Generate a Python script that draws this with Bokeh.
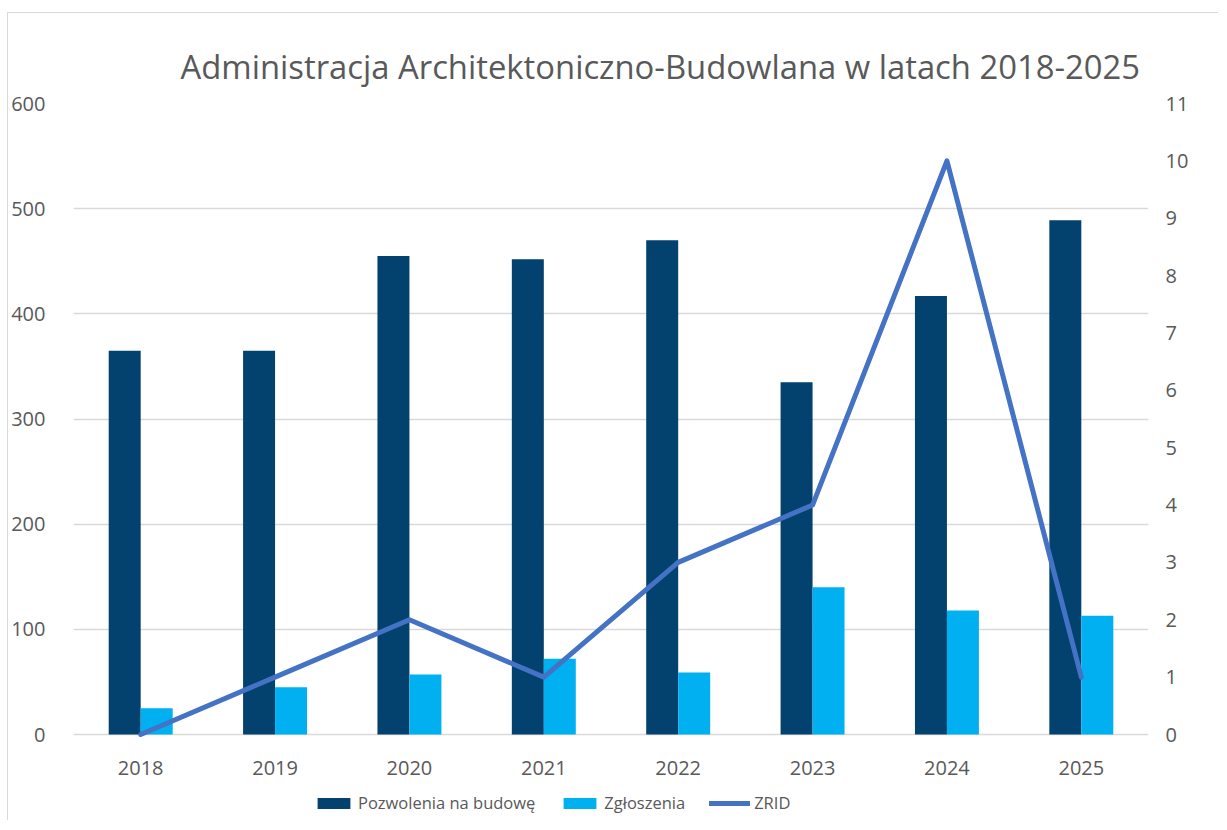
from bokeh.plotting import figure
from bokeh.models import (FactorRange, Range1d, LinearAxis, FixedTicker, Legend, LegendItem,
                          ColumnDataSource, Title)
from bokeh.core.properties import value
from bokeh.transform import dodge
from bokeh.embed import file_html
from bokeh.resources import INLINE

years = ["2018", "2019", "2020", "2021", "2022", "2023", "2024", "2025"]
pozwolenia = [365, 365, 455, 452, 470, 335, 417, 489]
zgloszenia = [25, 45, 57, 72, 59, 140, 118, 113]
zrid = [0, 1, 2, 1, 3, 4, 10, 1]
left_ticks = [0, 100, 200, 300, 400, 500, 600]
right_ticks = list(range(0, 12))

TXT = "#595959"
FONT = "Open Sans"

# frame: 631 px for the 0..600 span, plus room below for category labels and legend
PLOT_H = 631
EXTRA_H = 86
LEFT_MAX, RIGHT_MAX = 600, 11
left_start = -EXTRA_H * LEFT_MAX / PLOT_H
right_start = -EXTRA_H * RIGHT_MAX / PLOT_H

src = ColumnDataSource(dict(years=years, poz=pozwolenia, zgl=zgloszenia, zrid=zrid,
                            base=[0] * len(years)))

p = figure(x_range=FactorRange(*years, range_padding=0), y_range=Range1d(left_start, LEFT_MAX),
           frame_width=1075, frame_height=PLOT_H + EXTRA_H, output_backend="svg",
           toolbar_location=None,
           min_border_left=65, min_border_right=70, min_border_top=90, min_border_bottom=0)
p.styles = {"border-left": "1px solid #d9d9d9", "border-top": "1px solid #d9d9d9",
            "margin-top": "12px", "margin-left": "7px"}
p.outline_line_color = None
p.background_fill_color = "white"

p.title = Title(text="Administracja Architektoniczno-Budowlana w latach 2018-2025",
                text_font=FONT, text_font_size="32.8px", text_font_style="normal",
                text_color=TXT, align="left", offset=107, standoff=29)

p.extra_y_ranges = {"r": Range1d(right_start, RIGHT_MAX)}

b1 = p.vbar(x=dodge("years", -0.119, range=p.x_range), top="poz", width=0.238, source=src,
            fill_color="#03416F", line_color=None)
b2 = p.vbar(x=dodge("years", 0.119, range=p.x_range), top="zgl", width=0.238, source=src,
            fill_color="#00B0F0", line_color=None)
l1 = p.line(x="years", y="zrid", source=src, y_range_name="r", line_color="#4472C4",
            line_width=5, line_join="round", line_cap="round")

# category labels under the baseline
p.text(x="years", y="base", text="years", source=src, y_offset=33,
       text_align="center", text_baseline="middle", text_font=value(FONT),
       text_font_size="20px", text_color=TXT)

p.yaxis.ticker = FixedTicker(ticks=left_ticks)
ax = p.yaxis[0]
ax.axis_line_color = None
ax.major_tick_line_color = None
ax.minor_tick_line_color = None
ax.major_label_text_font = FONT
ax.major_label_text_font_size = "20px"
ax.major_label_text_color = TXT
ax.major_label_standoff = 22

ra = LinearAxis(y_range_name="r", ticker=FixedTicker(ticks=right_ticks))
ra.axis_line_color = None
ra.major_tick_line_color = None
ra.minor_tick_line_color = None
ra.major_label_text_font = FONT
ra.major_label_text_font_size = "20px"
ra.major_label_text_color = TXT
ra.major_label_standoff = 11
p.add_layout(ra, "right")

p.xaxis.visible = False
p.xgrid.grid_line_color = None
p.ygrid.grid_line_color = "#D9D9D9"
p.ygrid.grid_line_width = 1.5

legend = Legend(items=[LegendItem(label="Pozwolenia na budowę", renderers=[b1]),
                       LegendItem(label="Zgłoszenia", renderers=[b2]),
                       LegendItem(label="ZRID", renderers=[l1])],
                orientation="horizontal", location=(240, 6),
                glyph_width=41, glyph_height=14, label_standoff=4, spacing=24,
                label_text_font=FONT, label_text_font_size="16.5px", label_text_color=TXT,
                border_line_color=None, background_fill_alpha=0, padding=4, margin=0)
p.add_layout(legend, "center")

open("out.html", "w").write(file_html(p, INLINE))
